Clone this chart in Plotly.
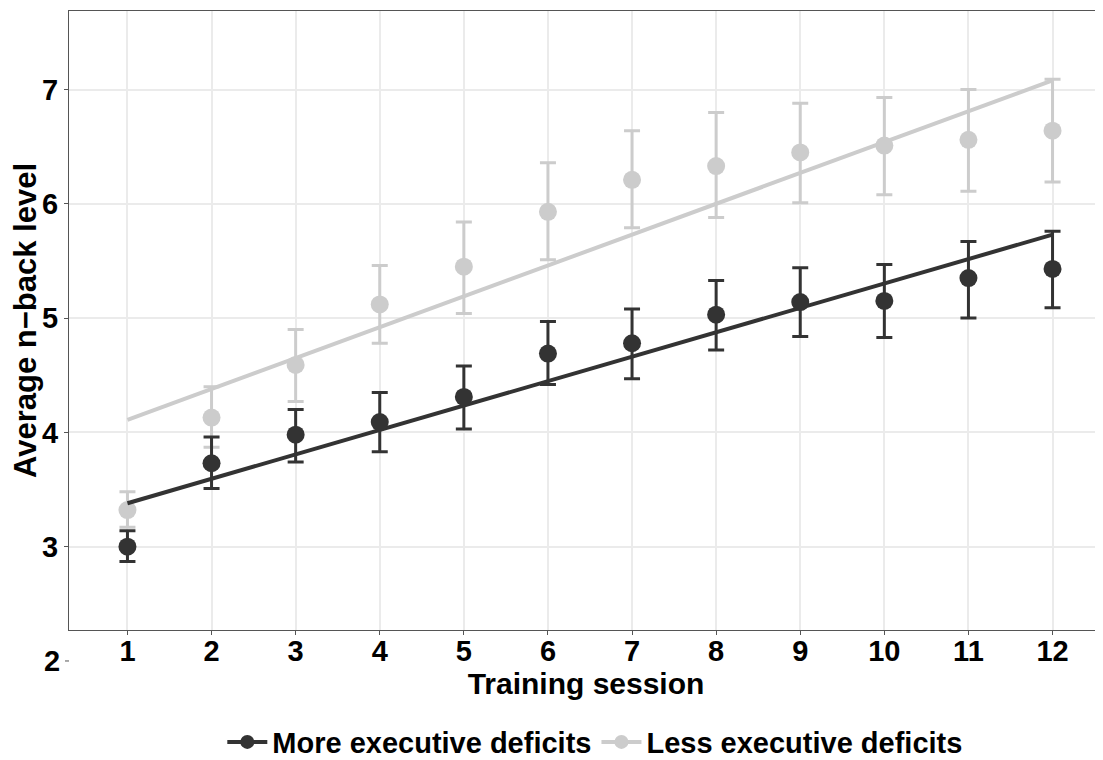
import plotly.graph_objects as go

sessions = [1, 2, 3, 4, 5, 6, 7, 8, 9, 10, 11, 12]

more_name = "More executive deficits"
more_mean = [3.00, 3.73, 3.98, 4.09, 4.31, 4.69, 4.78, 5.03, 5.14, 5.15, 5.35, 5.43]
more_lo = [2.87, 3.51, 3.74, 3.83, 4.03, 4.42, 4.47, 4.72, 4.84, 4.83, 5.00, 5.09]
more_hi = [3.14, 3.96, 4.20, 4.35, 4.58, 4.97, 5.08, 5.33, 5.44, 5.47, 5.67, 5.76]
more_fit_x = [1, 12]
more_fit_y = [3.38, 5.73]

less_name = "Less executive deficits"
less_mean = [3.32, 4.13, 4.59, 5.12, 5.45, 5.93, 6.21, 6.33, 6.45, 6.51, 6.56, 6.64]
less_lo = [3.17, 3.87, 4.27, 4.78, 5.04, 5.51, 5.79, 5.88, 6.01, 6.08, 6.11, 6.19]
less_hi = [3.48, 4.40, 4.90, 5.46, 5.84, 6.36, 6.64, 6.80, 6.88, 6.93, 7.00, 7.09]
less_fit_x = [1, 12]
less_fit_y = [4.11, 7.08]

y_ticks = [3, 4, 5, 6, 7]
extra_tick = 2
y_range = [2.271, 7.687]
x_range = [0.305, 12.6]

DARK = "#333333"
LIGHT = "#cccccc"
FONT = "Liberation Sans, Arial, Helvetica, sans-serif"

fig = go.Figure()


def add_group(name, mean, lo, hi, fx, fy, color, rank):
    plus = [h - m for h, m in zip(hi, mean)]
    minus = [m - l for m, l in zip(mean, lo)]
    fig.add_trace(go.Scatter(
        x=fx, y=fy, mode="lines", line=dict(color=color, width=4),
        showlegend=False, hoverinfo="skip"))
    fig.add_trace(go.Scatter(
        x=sessions, y=mean, mode="markers",
        marker=dict(color=color, size=18),
        error_y=dict(type="data", symmetric=False, array=plus, arrayminus=minus,
                     color=color, thickness=3, width=8),
        showlegend=False))
    fig.add_trace(go.Scatter(
        x=[None], y=[None], mode="lines+markers", name=name, legendrank=rank,
        line=dict(color=color, width=4), marker=dict(color=color, size=14)))


add_group(less_name, less_mean, less_lo, less_hi, less_fit_x, less_fit_y, LIGHT, 2)
add_group(more_name, more_mean, more_lo, more_hi, more_fit_x, more_fit_y, DARK, 1)

tickfont = dict(size=29, family=FONT, weight="bold", color="black")

fig.update_layout(
    width=1095, height=752,
    margin=dict(l=61, r=0, t=3, b=130, autoexpand=False),
    plot_bgcolor="white", paper_bgcolor="white",
    font=dict(family=FONT, color="black", weight="bold"),
    showlegend=True,
    legend=dict(orientation="h", x=0.509, xanchor="center", y=-0.181, yanchor="middle",
                font=dict(size=29, family=FONT, weight="bold", color="black"),
                itemwidth=40, traceorder="normal"),
    xaxis=dict(
        range=x_range, tickvals=sessions, ticktext=[str(s) for s in sessions],
        showgrid=True, gridcolor="#ebebeb", gridwidth=1.5, zeroline=False,
        showline=True, linecolor="#555555", linewidth=1, mirror=True,
        ticks="outside", ticklen=4, tickcolor="#555555",
        tickfont=tickfont, ticklabelstandoff=-9,
        title=dict(text="Training session", standoff=0,
                   font=dict(size=30, family=FONT, weight="bold", color="black")),
    ),
    yaxis=dict(
        range=y_range, tickvals=y_ticks, ticktext=[str(t) for t in y_ticks],
        showgrid=True, gridcolor="#ebebeb", gridwidth=1.5, zeroline=False,
        showline=True, linecolor="#555555", linewidth=1,
        ticks="outside", ticklen=4, tickcolor="#555555",
        tickfont=tickfont,
        title=dict(text="Average n\u2212back level", standoff=10,
                   font=dict(size=31, family=FONT, weight="bold", color="black")),
    ),
)

# the lone "2" tick sits below the x axis line, on the same y scale
frac2 = (extra_tick - y_range[0]) / (y_range[1] - y_range[0])
fig.add_annotation(x=0, xref="paper", y=frac2, yref="y domain", text=str(extra_tick),
                   showarrow=False, xanchor="right", yanchor="middle", xshift=-7,
                   font=tickfont)
fig.add_shape(type="line", xref="paper", yref="y domain", x0=-4 / 1034, x1=0,
              y0=frac2, y1=frac2, line=dict(color="#555555", width=1))

fig.write_html("out.html")
